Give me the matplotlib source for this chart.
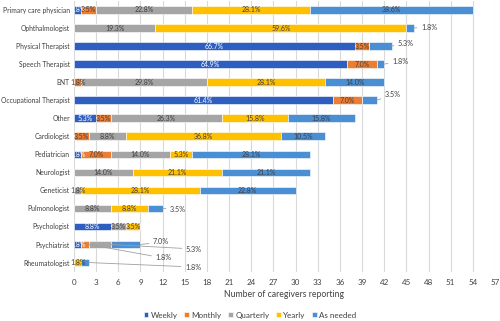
import matplotlib
matplotlib.use("Agg")
import matplotlib.pyplot as plt
import numpy as np

plt.rcParams['font.family'] = ['Lato', 'DejaVu Sans']

categories = ["Primary care physician", "Ophthalmologist", "Physical Therapist",
              "Speech Therapist", "ENT", "Occupational Therapist", "Other",
              "Cardiologist", "Pediatrician", "Neurologist", "Geneticist",
              "Pulmonologist", "Psychologist", "Psychiatrist", "Rheumatologist"]
series_names = ["Weekly", "Monthly", "Quarterly", "Yearly", "As needed"]
weekly    = [1, 0, 38, 37, 0, 35, 3, 0, 1, 0, 0, 0, 5, 1, 0]
monthly   = [2, 0, 2, 4, 1, 4, 2, 2, 4, 0, 0, 0, 0, 1, 0]
quarterly = [13, 11, 0, 0, 17, 0, 15, 5, 8, 8, 1, 5, 2, 3, 0]
yearly    = [16, 34, 0, 0, 16, 0, 9, 21, 3, 12, 16, 5, 2, 0, 1]
as_needed = [22, 1, 3, 1, 8, 2, 9, 6, 16, 12, 13, 2, 0, 4, 1]
total_n = 57
x_ticks = list(range(0, 58, 3))

colors = ["#2E5FC0", "#ED7D31", "#A5A5A5", "#FFC000", "#4A8ED3"]
text_colors = ["white", "#404040", "#404040", "#404040", "#404040"]
series = [weekly, monthly, quarterly, yearly, as_needed]

fig = plt.figure(figsize=(5.0, 3.21), dpi=100)
ax = fig.add_axes([0.148, 0.154, 0.842, 0.843])

n = len(categories)
ypos = np.arange(n)
left = np.zeros(n)
outside = {
    (1, 13): (155.5, 258), (2, 13): (186, 249), (4, 13): (153, 242),
    (4, 14): (185, 267), (4, 1): (421, 27), (4, 2): (398, 44),
    (4, 3): (392, 61), (4, 5): (385, 95), (4, 11): (170, 209),
}
for si, (name, vals) in enumerate(zip(series_names, series)):
    vals = np.array(vals, dtype=float)
    ax.barh(ypos, vals, left=left, height=0.42, color=colors[si],
            edgecolor="white", linewidth=0.4, label=name, zorder=2)
    for ci, v in enumerate(vals):
        if v <= 0:
            continue
        pct = f"{100 * v / total_n:.1f}%"
        xc = left[ci] + v / 2
        if (si, ci) in outside:
            px, py = outside[(si, ci)]
            fx, fy = px / 500.0, 1 - py / 321.0
            ax.annotate(pct, xy=(left[ci] + v, ci), xycoords="data",
                        xytext=(fx, fy), textcoords="figure fraction",
                        fontsize=5.2, color="#404040", va="center", ha="left",
                        arrowprops=dict(arrowstyle="-", color="#A0A0A0", lw=0.6,
                                        shrinkA=1, shrinkB=0),
                        zorder=4)
        else:
            ax.text(xc, ci, pct, ha="center", va="center", fontsize=5.0,
                    color=text_colors[si], zorder=4)
    left += vals

ax.set_ylim(n - 0.5, -0.5)
ax.set_xlim(0, 57)
ax.set_xticks(x_ticks)
ax.set_yticks(ypos)
ax.set_yticklabels(categories)
ax.tick_params(axis="both", length=0, labelsize=5.8, colors="#404040")
ax.tick_params(axis="y", pad=3, labelsize=4.9)
ax.tick_params(axis="x", pad=5)
ax.xaxis.grid(True, color="#D9D9D9", lw=0.8, zorder=0)
ax.set_axisbelow(True)
for s in ax.spines.values():
    s.set_visible(False)
ax.set_xlabel("Number of caregivers reporting", fontsize=6.2, color="#404040", labelpad=3)

leg = fig.legend(loc="lower center", bbox_to_anchor=(0.5, -0.015), ncol=5,
                 fontsize=5.8, frameon=False, handlelength=0.6, handleheight=0.6,
                 handletextpad=0.3, columnspacing=0.8)
for t in leg.get_texts():
    t.set_color("#404040")

fig.savefig("out.png", dpi=100)
